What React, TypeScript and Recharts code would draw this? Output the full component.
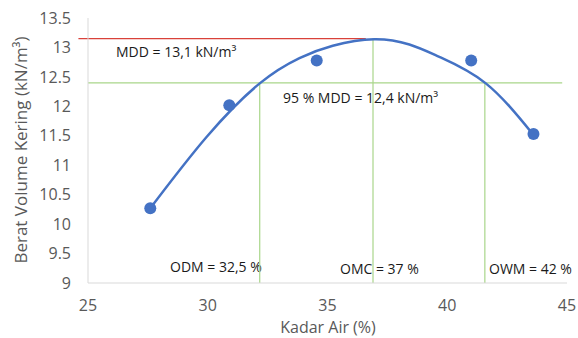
import { ComposedChart, Scatter, Line, XAxis, YAxis, ReferenceLine, Label } from 'recharts';

// measured points (kadar air %, berat volume kering kN/m3)
const kadarAir = [27.6, 30.9, 34.55, 41.0, 43.6];
const beratVolume = [10.27, 12.02, 12.78, 12.78, 11.53];

// trendline
const trendX = [27.6, 29.95, 32.17, 33.83, 35.22, 36.95, 38.42, 39.67, 41.61, 43.55];
const trendY = [10.27, 11.48, 12.39, 12.82, 13.03, 13.14, 13.05, 12.84, 12.39, 11.54];

const xTicks = [25, 30, 35, 40, 45];
const yTicks = [9, 9.5, 10, 10.5, 11, 11.5, 12, 12.5, 13, 13.5];

const mdd = 13.15;
const mdd95 = 12.4;
const odm = 32.17;
const omc = 36.9;
const owm = 41.57;

const points = kadarAir.map((x, i) => ({ x, y: beratVolume[i] }));
const trend = trendX.map((x, i) => ({ x, y: trendY[i] }));

const font = '"Open Sans", sans-serif';
const tickStyle = { fill: '#595959', fontSize: 16, fontFamily: font };
const noteStyle = { fill: '#1a1a1a', fontSize: 14, fontFamily: font };

const Note = ({ x, y, children }: { x: number; y: number; children: string }) => (
  <text x={x} y={y} style={noteStyle}>{children}</text>
);

export default function App() {
  return (
    <div style={{ position: 'absolute', left: 0, top: 0, width: 578, height: 338, background: '#fff' }}>
      <ComposedChart width={578} height={338} margin={{ top: 18, right: 11, bottom: 5, left: 28 }}>
        <XAxis
          type="number"
          dataKey="x"
          domain={[25, 45]}
          ticks={xTicks}
          tickLine={false}
          tickSize={0}
          tickMargin={17}
          height={50}
          stroke="#d9d9d9"
          tick={tickStyle}
          allowDataOverflow
        >
          <Label
            content={() => (
              <text x={328} y={333} textAnchor="middle" style={{ fill: '#595959', fontSize: 16, fontFamily: font }}>
                Kadar Air (%)
              </text>
            )}
          />
        </XAxis>
        <YAxis
          type="number"
          dataKey="y"
          domain={[9, 13.5]}
          ticks={yTicks}
          tickLine={false}
          tickSize={0}
          tickMargin={17}
          width={60}
          stroke="#d9d9d9"
          tick={tickStyle}
          allowDataOverflow
        >
          <Label
            content={() => (
              <text
                x={27}
                y={150}
                textAnchor="middle"
                transform="rotate(-90 27 150)"
                style={{ fill: '#595959', fontSize: 17, fontFamily: font }}
              >
                Berat Volume Kering (kN/m³)
              </text>
            )}
          />
        </YAxis>
        <ReferenceLine segment={[{ x: 24.6, y: mdd }, { x: 36.6, y: mdd }]} stroke="#d9413a" strokeWidth={1.2} ifOverflow="visible" />
        <ReferenceLine segment={[{ x: 25, y: mdd95 }, { x: 44.8, y: mdd95 }]} stroke="#a9d68a" strokeWidth={1.2} />
        <ReferenceLine segment={[{ x: odm, y: 9 }, { x: odm, y: mdd95 }]} stroke="#a9d68a" strokeWidth={1.2} />
        <ReferenceLine segment={[{ x: omc, y: 9 }, { x: omc, y: mdd }]} stroke="#a9d68a" strokeWidth={1.2} />
        <ReferenceLine segment={[{ x: owm, y: 9 }, { x: owm, y: mdd95 }]} stroke="#a9d68a" strokeWidth={1.2} />
        <Line
          data={trend}
          dataKey="y"
          type="natural"
          stroke="#4472c4"
          strokeWidth={2.5}
          dot={false}
          activeDot={false}
          isAnimationActive={false}
        />
        <Scatter data={points} dataKey="y" fill="#4472c4" shape={(p: any) => <circle cx={p.cx} cy={p.cy} r={6} fill="#4472c4" />} isAnimationActive={false} />
        <Note x={116} y={57}>MDD = 13,1 kN/m³</Note>
        <Note x={283} y={103}>95 % MDD = 12,4 kN/m³</Note>
        <Note x={170} y={272}>ODM = 32,5 %</Note>
        <Note x={340} y={274}>OMC = 37 %</Note>
        <Note x={489} y={274}>OWM = 42 %</Note>
      </ComposedChart>
    </div>
  );
}
